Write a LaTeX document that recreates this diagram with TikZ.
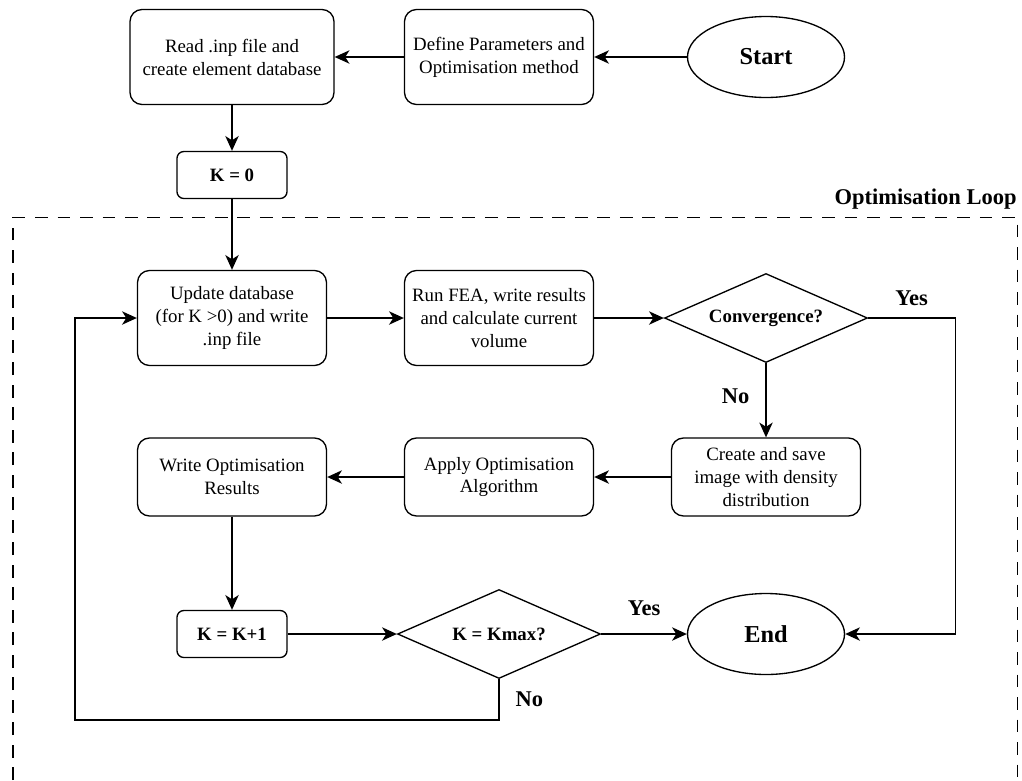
\documentclass[tikz,border=0pt]{standalone}
\usepackage{fontspec}
\setmainfont{Liberation Serif}
\usetikzlibrary{positioning,shapes.geometric,arrows.meta}

\tikzset{
  process/.style={draw, rounded corners=0.3cm, minimum width=4.725cm, minimum height=2.375cm,
    align=center, inner sep=2pt, font=\fontsize{13.4}{16.3}\selectfont},
  counter/.style={draw, rounded corners=0.17cm, minimum width=2.75cm, minimum height=1.175cm,
    font=\bfseries\fontsize{13.4}{16}\selectfont},
  decision/.style={draw, diamond, aspect=2.3, inner sep=0pt, minimum width=5.075cm,
    minimum height=2.225cm, font=\bfseries\fontsize{13.4}{16}\selectfont},
  terminal/.style={draw, ellipse, minimum width=3.925cm, minimum height=2.025cm,
    font=\bfseries\fontsize{17.3}{20}\selectfont},
  answer/.style={font=\bfseries\fontsize{16}{19}\selectfont},
}

\begin{document}
\begin{tikzpicture}[>={Stealth[length=10.5pt,width=9.5pt,inset=3pt]}, node distance=6.675cm, on grid, line width=0.95pt]
  \useasboundingbox (0,0) rectangle (25.55,-19.5);

  % top row
  \node[process, minimum width=5.1cm] (read) at (5.8,-1.425) {Read .inp file and\\create element database};
  \node[process] (define) [right=of read] {Define Parameters and\\Optimisation method};
  \node[terminal] (start) [right=of define] {Start};
  \node[counter] (k0) [below=2.95cm of read] {K = 0};

  % optimisation loop
  \node[process] (update) [below=3.575cm of k0] {Update database\\(for K >0) and write\\.inp file};
  \node[process] (run) [right=of update] {Run FEA, write results\\and calculate current\\volume};
  \node[decision] (conv) [right=of run] {Convergence?};
  \node[process, minimum height=1.95cm] (create) [below=3.975cm of conv] {Create and save\\image with density\\distribution};
  \node[process, minimum height=1.95cm] (apply) [left=of create] {Apply Optimisation\\Algorithm};
  \node[process, minimum height=1.95cm] (write) [left=of apply] {Write Optimisation\\Results};
  \node[counter] (kinc) [below=3.925cm of write] {K = K+1};
  \node[decision] (kmax) [right=of kinc] {K = Kmax?};
  \node[terminal] (end) [right=of kmax] {End};
  \coordinate (back) at (1.875,-18);

  \draw[dashed, dash pattern=on 9pt off 7pt] (0.325,-19.5) -- (0.325,-5.43) -- (25.43,-5.43) -- (25.43,-19.5);
  \node[answer, anchor=south east, inner sep=0pt] (looplabel) at (25.43,-5.25) {Optimisation Loop};

  \draw[->] (start) -- (define);
  \draw[->] (define) -- (read);
  \draw[->] (read) -- (k0);
  \draw[->] (k0) -- (update);
  \draw[->] (update) -- (run);
  \draw[->] (run) -- (conv.west);
  \draw[->] (conv.east) -- node[answer, above=5pt] {Yes} ++(2.175,0) |- (end.east);
  \draw[->] (conv.south) -- node[answer, left=8pt, pos=0.45] {No} (create.north);
  \draw[->] (create) -- (apply);
  \draw[->] (apply) -- (write);
  \draw[->] (write) -- (kinc);
  \draw[->] (kinc) -- (kmax.west);
  \draw[->] (kmax.east) -- node[answer, above=9pt] {Yes} (end.west);
  \draw[->] (kmax.south) |- node[answer, right=8pt, pos=0.25] {No} (back) |- (update.west);
\end{tikzpicture}
\end{document}
